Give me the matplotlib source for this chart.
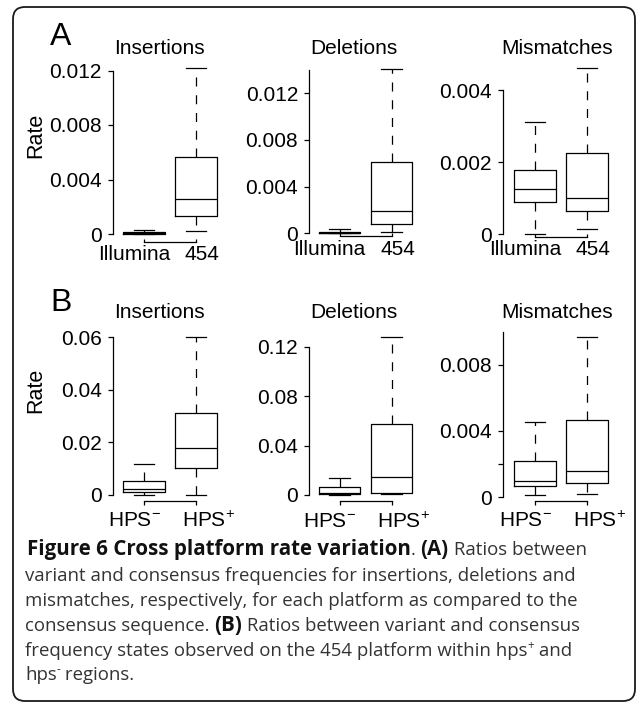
import matplotlib
matplotlib.use('Agg')
import matplotlib.pyplot as plt
from matplotlib.patches import FancyBboxPatch
from matplotlib.transforms import IdentityTransform, ScaledTranslation

plt.rcParams['font.family'] = ['Liberation Sans', 'DejaVu Sans']
plt.rcParams['mathtext.fontset'] = 'custom'
plt.rcParams['mathtext.rm'] = 'Liberation Sans'
plt.rcParams['mathtext.it'] = 'Liberation Sans'

# ---------------- data (five-number summaries) ----------------
titles = ['Insertions', 'Deletions', 'Mismatches']
cats_A = ['Illumina', '454']
cats_B = [r'HPS$^{-}$', r'HPS$^{+}$']

# order of each summary: [lower whisker, q1, median, q3, upper whisker]
A_ins_illumina = [0.0, 0.00003, 0.00007, 0.00012, 0.0003]
A_ins_454 = [0.0002, 0.00132, 0.00255, 0.00568, 0.0122]
A_del_illumina = [0.0, 0.00003, 0.00006, 0.0001, 0.00034]
A_del_454 = [0.00014, 0.0008, 0.00194, 0.00614, 0.0141]
A_mis_illumina = [0.0, 0.0009, 0.00125, 0.00178, 0.0031]
A_mis_454 = [0.00014, 0.00065, 0.00099, 0.00224, 0.0046]

B_ins_minus = [0.0, 0.00125, 0.0024, 0.0053, 0.0117]
B_ins_plus = [0.0, 0.0101, 0.0177, 0.031, 0.06]
B_del_minus = [0.0, 0.0008, 0.0019, 0.0062, 0.0135]
B_del_plus = [0.0008, 0.0019, 0.0148, 0.0572, 0.1277]
B_mis_minus = [0.00014, 0.00068, 0.001, 0.00221, 0.00456]
B_mis_plus = [0.00018, 0.00084, 0.00159, 0.00466, 0.00965]

yticks_A = [[0, 0.004, 0.008, 0.012], [0, 0.004, 0.008, 0.012], [0, 0.002, 0.004]]
ylabels_A = [['0', '0.004', '0.008', '0.012'], ['0', '0.004', '0.008', '0.012'], ['0', '0.002', '0.004']]
yaxis_top_A = [0.012, 0.014, 0.004]
yticks_B = [[0, 0.02, 0.04, 0.06], [0, 0.04, 0.08, 0.12], [0, 0.002, 0.004, 0.008]]
ylabels_B = [['0', '0.02', '0.04', '0.06'], ['0', '0.04', '0.08', '0.12'], ['0', '', '0.004', '0.008']]
yaxis_top_B = [0.06, 0.12, 0.010]

# ---------------- figure ----------------
W, H, DPI = 637, 706, 100
fig = plt.figure(figsize=(W / DPI, H / DPI), dpi=DPI)
fig.patch.set_facecolor('white')

# layout in pixels (per panel): spine x, first box centre x, zero y, px per unit, x-axis y, top y
layout_A = [(113, 144, 234.0, 13625, 241.5, 60),
            (309.3, 339.5, 233.3, 11675, 236.5, 60),
            (502.7, 535, 234.0, 36000, 236.7, 60)]
layout_B = [(113, 144, 495.0, 2630, 500.5, 328),
            (309.3, 339.5, 495.0, 1235, 501.0, 328),
            (502.7, 535, 497.3, 16575, 500.5, 328)]
SPACING = 52.0
AXW = 112.0
FS = 15
# horizontal nudges (px) of the category labels, as in the reference
label_shift_A = [-10, 6]
label_shift_B = [-10, 12]


def make_panel(lay, data_pair, ticks, tlabels, ytop, cats, row):
    sx, c1, zy, ppu, by, ty = lay
    ax = fig.add_axes([sx / W, 1 - by / H, AXW / W, (by - ty) / H])
    ax.patch.set_alpha(0)
    stats = []
    for d in data_pair:
        stats.append(dict(whislo=d[0], q1=d[1], med=d[2], q3=d[3], whishi=d[4], fliers=[]))
    lw = 0.9
    ax.bxp(stats, positions=[1, 2], widths=0.8, capwidths=0.4, showfliers=False,
           boxprops=dict(color='black', lw=lw),
           whiskerprops=dict(color='black', lw=lw, linestyle=(0, (7.2, 7.0))),
           capprops=dict(color='black', lw=lw),
           medianprops=dict(color='black', lw=lw),
           manage_ticks=False)
    xlo = 1 - (c1 - sx) / SPACING
    ax.set_xlim(xlo, xlo + AXW / SPACING)
    ax.set_ylim(-(by - zy) / ppu, (zy - ty) / ppu)
    for s in ['top', 'right']:
        ax.spines[s].set_visible(False)
    ax.spines['left'].set_bounds(0, ytop)
    ax.spines['bottom'].set_bounds(1, 2)
    ax.spines['left'].set_linewidth(0.9)
    ax.spines['bottom'].set_linewidth(0.9)
    ax.set_yticks(ticks)
    ax.set_yticklabels(tlabels)
    ax.set_xticks([1, 2])
    ax.set_xticklabels(cats)
    ax.tick_params(axis='y', direction='out', length=3.6, width=0.9, pad=4.5, labelsize=FS)
    if row == 'A':
        ax.tick_params(axis='x', direction='in', length=2.5, width=0.9, pad=2.5, labelsize=FS)
        shifts = label_shift_A
    else:
        ax.tick_params(axis='x', direction='out', length=3.2, width=0.9, pad=4.5, labelsize=FS)
        shifts = label_shift_B
    for lab, dx in zip(ax.get_xticklabels(), shifts):
        lab.set_transform(lab.get_transform() + ScaledTranslation(dx / DPI, 0, fig.dpi_scale_trans))
    return ax


pairs_A = [(A_ins_illumina, A_ins_454), (A_del_illumina, A_del_454), (A_mis_illumina, A_mis_454)]
pairs_B = [(B_ins_minus, B_ins_plus), (B_del_minus, B_del_plus), (B_mis_minus, B_mis_plus)]

for i in range(3):
    make_panel(layout_A[i], pairs_A[i], yticks_A[i], ylabels_A[i], yaxis_top_A[i], cats_A, 'A')
    make_panel(layout_B[i], pairs_B[i], yticks_B[i], ylabels_B[i], yaxis_top_B[i], cats_B, 'B')

# titles, panel letters, axis labels (pixel positions)
title_x = [159, 354, 557]
for i, t in enumerate(titles):
    fig.text(title_x[i] / W, 1 - 48 / H, t, ha='center', va='center', fontsize=FS)
    fig.text(title_x[i] / W, 1 - 313 / H, t, ha='center', va='center', fontsize=FS)
fig.text(61 / W, 1 - 37 / H, 'A', ha='center', va='center', fontsize=23)
fig.text(61 / W, 1 - 303 / H, 'B', ha='center', va='center', fontsize=23)
fig.text(36 / W, 1 - 135 / H, 'Rate', ha='center', va='center', rotation=90, fontsize=FS + 0.5)
fig.text(36 / W, 1 - 390 / H, 'Rate', ha='center', va='center', rotation=90, fontsize=FS + 0.5)

# ---------------- caption ----------------
norm_family = ['Open Sans', 'DejaVu Sans']
bold_family = ['Open Sans', 'DejaVu Sans']
NORMAL_C = '#333333'
BOLD_C = '#111111'
caption_lines = [
    [("Figure 6 Cross platform rate variation", 'bold'), (". ", 'normal'), ("(A)", 'bold'),
     (" Ratios between", 'normal')],
    [("variant and consensus frequencies for insertions, deletions and", 'normal')],
    [("mismatches, respectively, for each platform as compared to the", 'normal')],
    [("consensus sequence. ", 'normal'), ("(B)", 'bold'), (" Ratios between variant and consensus", 'normal')],
    [("frequency states observed on the 454 platform within hps", 'normal'), ("+", 'sup'),
     (" and", 'normal')],
    [("hps", 'normal'), ("-", 'sup'), (" regions.", 'normal')],
]
renderer = fig.canvas.get_renderer()
sizes = {}


def seg_props(kind):
    if kind == 'bold':
        return dict(fontsize=sizes['bold'], fontweight='bold', family=bold_family, color=BOLD_C)
    if kind == 'sup':
        return dict(fontsize=sizes['normal'] * 0.62, fontweight='normal', family=norm_family, color=NORMAL_C)
    return dict(fontsize=sizes['normal'], fontweight='normal', family=norm_family, color=NORMAL_C)


def seg_width(s, kind):
    t = fig.text(0, 0, s.replace(' ', '\u00a0'), **seg_props(kind))
    w = t.get_window_extent(renderer).width
    t.remove()
    return w


# fit the normal text on line 3, then the bold text on line 1
sizes['normal'] = 12.0
sizes['bold'] = 12.0
w3 = sum(seg_width(s, k) for s, k in caption_lines[2])
sizes['normal'] = 12.0 * 549.0 / w3
wn = sum(seg_width(s, k) for s, k in caption_lines[0] if k != 'bold')
wb = sum(seg_width(s, k) for s, k in caption_lines[0] if k == 'bold')
sizes['bold'] = min(max(12.0 * (586.0 - wn) / wb, sizes['normal'] * 0.9), sizes['normal'] * 1.1)

line_x0 = [27, 25, 25, 25, 25, 25]
line_base_y = [555, 581, 606, 631, 656, 680]
for li, segs in enumerate(caption_lines):
    x = line_x0[li]
    y = line_base_y[li]
    for s, k in segs:
        yy = y - (sizes['normal'] * 0.55 if k == 'sup' else 0)
        fig.text(x / W, 1 - yy / H, s.replace(' ', '\u00a0'), ha='left', va='baseline', **seg_props(k))
        x += seg_width(s, k)

# rounded border
border = FancyBboxPatch((13, H - 701), 635 - 13, 701 - 7,
                        boxstyle='round,pad=0,rounding_size=12',
                        transform=IdentityTransform(), fill=False, ec='#1a1a1a', lw=1.3)
fig.patches.append(border)

fig.savefig('out.png', dpi=DPI, facecolor='white')
